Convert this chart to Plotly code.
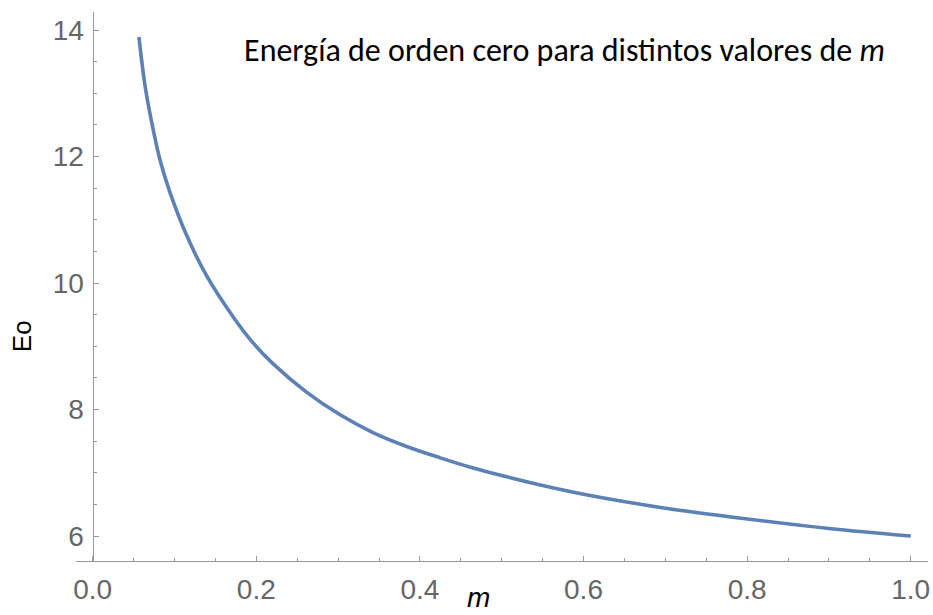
import plotly.graph_objects as go

# Values
m_vals = [0.0565, 0.064, 0.072, 0.082, 0.094, 0.115, 0.139, 0.172, 0.195, 0.220,
          0.261, 0.302, 0.342, 0.383, 0.424, 0.464, 0.505, 0.546, 0.60, 0.70,
          0.80, 0.90, 1.00]
e_vals = [13.89, 13.12, 12.55, 11.96, 11.45, 10.75, 10.12, 9.46, 9.07, 8.73,
          8.28, 7.92, 7.64, 7.42, 7.24, 7.08, 6.94, 6.81, 6.66, 6.44,
          6.27, 6.12, 6.00]

x_ticks = [0.0, 0.2, 0.4, 0.6, 0.8, 1.0]
x_tick_labels = ["0.0", "0.2", "0.4", "0.6", "0.8", "1.0"]
y_ticks = [6, 8, 10, 12, 14]
y_tick_labels = ["6", "8", "10", "12", "14"]

title_text = "Energía de orden cero para distintos valores de <i>m</i>"
x_title = "<i>m</i>"
y_title = "Eo"

tick_font = dict(family="Liberation Sans, Arial", size=28, color="#666666")
axis_color = "#9a9a9a"

fig = go.Figure()
fig.add_trace(go.Scatter(
    x=m_vals, y=e_vals, mode="lines",
    line=dict(color="#5E81B5", width=3.6, shape="spline", smoothing=1.0),
    hoverinfo="skip", showlegend=False,
))

W, H = 933, 615
L, R, T, B = 76, 3, 12, 54
plot_w = W - L - R
plot_h = H - T - B

x0_pix = 92.7  # pixel of m = 0
fig.update_layout(
    width=W, height=H,
    margin=dict(l=L, r=R, t=T, b=B),
    paper_bgcolor="white", plot_bgcolor="white",
    xaxis=dict(
        range=[-0.0204, 1.0211], showgrid=False, zeroline=False,
        showline=True, linecolor=axis_color, linewidth=1.3,
        ticks="inside", ticklen=4.5, tickcolor=axis_color, tickwidth=1,
        tickvals=x_ticks, ticktext=x_tick_labels, tickfont=tick_font,
        ticklabelstandoff=3,
        minor=dict(ticks="inside", dtick=0.05, ticklen=2.5, tickcolor=axis_color, showgrid=False),
    ),
    yaxis=dict(
        range=[5.605, 14.285], showgrid=False, zeroline=False,
        anchor="free", position=(x0_pix - L) / plot_w,
        showline=True, linecolor=axis_color, linewidth=1.3,
        ticks="inside", ticklen=5.5, tickcolor=axis_color, tickwidth=1,
        tickvals=y_ticks, ticktext=y_tick_labels, tickfont=tick_font,
        ticklabelstandoff=3,
        minor=dict(ticks="inside", dtick=0.5, ticklen=3.3, tickcolor=axis_color, showgrid=False),
    ),
    annotations=[
        dict(text=title_text, xref="paper", yref="paper",
             x=(565.5 - L) / plot_w, y=(H - B - 50) / plot_h,
             xanchor="center", yanchor="middle", showarrow=False,
             font=dict(family="Carlito, Lato, sans-serif", size=32, color="black")),
        dict(text=x_title, xref="paper", yref="paper",
             x=(479 - L) / plot_w, y=(H - B - 615) / plot_h,
             xanchor="center", yanchor="bottom", showarrow=False,
             font=dict(family="Liberation Sans, Arial", size=28, color="black")),
        dict(text=y_title, xref="paper", yref="paper",
             x=(22 - L) / plot_w, y=(H - B - 336) / plot_h,
             xanchor="center", yanchor="middle", showarrow=False, textangle=-90,
             font=dict(family="Liberation Sans, Arial", size=26, color="black")),
    ],
)

fig.write_html("out.html")
